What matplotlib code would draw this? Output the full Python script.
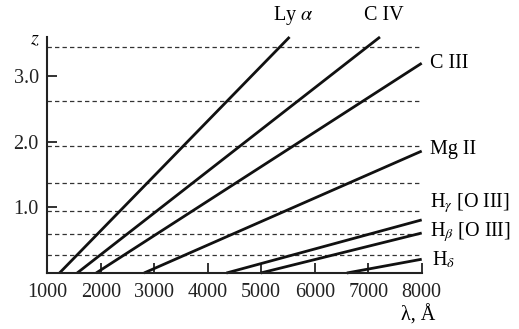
import matplotlib
matplotlib.use("Agg")
import matplotlib.pyplot as plt

plt.rcParams['font.family'] = ['Liberation Serif', 'DejaVu Serif']
plt.rcParams['mathtext.fontset'] = 'stix'

# Line endpoints: (lambda, z) at start and end
line_names = ['Ly_alpha', 'C IV', 'C III', 'Mg II', 'H_gamma', 'H_beta', 'H_delta']
lam_start = [1230, 1560, 1915, 2810, 4350, 4990, 6600]
z_start = [0, 0, 0, 0, 0, 0, 0]
lam_end = [5530, 7220, 8000, 8000, 8000, 8000, 8000]
z_end = [3.6, 3.6, 3.2, 1.86, 0.81, 0.61, 0.21]

# Dashed horizontal guide levels
z_levels = [0.27, 0.59, 0.945, 1.38, 1.94, 2.62, 3.45]

x_ticks = [1000, 2000, 3000, 4000, 5000, 6000, 7000, 8000]
y_ticks = [1.0, 2.0, 3.0]
y_ticklabels = ['1.0', '2.0', '3.0']

fs = 14.5

fig = plt.figure(figsize=(5.19, 3.29), dpi=100)
ax = fig.add_axes([47.2 / 519, 1 - 273 / 329, 374.5 / 519, 236 / 329])

# Guide lines
for zl in z_levels:
    ax.plot([1000, 8000], [zl, zl], color='#333333', lw=0.9,
            dashes=(3.5, 2.5), clip_on=False)

# Spectral lines
for xs, ys, xe, ye in zip(lam_start, z_start, lam_end, z_end):
    ax.plot([xs, xe], [ys, ye], color='#111111', lw=2.0,
            solid_capstyle='butt', clip_on=False)

ax.set_xlim(1000, 8000)
ax.set_ylim(0, 3.6)

for s in ['top', 'right']:
    ax.spines[s].set_visible(False)
for s in ['left', 'bottom']:
    ax.spines[s].set_linewidth(1.5)
    ax.spines[s].set_color('#222222')

ax.set_xticks(x_ticks)
ax.set_xticklabels([str(t) for t in x_ticks])
ax.set_yticks(y_ticks)
ax.set_yticklabels(y_ticklabels)
ax.tick_params(direction='in', length=7, width=1.3, labelsize=fs,
               colors='#222222', pad=7)
ax.tick_params(axis='y', pad=6)

# Axis labels
ax.text(-0.02, 3.55, r'$z$', fontsize=fs, ha='right', va='center',
        transform=ax.get_yaxis_transform())
ax.text(7930, -0.64, 'λ, Å', fontsize=fs, ha='center', va='center')

# Line labels
ax.text(5590, 3.93, r'Ly $\alpha$', fontsize=fs, ha='center', va='center')
ax.text(7300, 3.93, 'C IV', fontsize=fs, ha='center', va='center')
ax.text(8150, 3.2, 'C III', fontsize=fs, ha='left', va='center')
ax.text(8150, 1.88, 'Mg II', fontsize=fs, ha='left', va='center')
ax.text(8150, 1.07, r'H$_\gamma$ [O III]', fontsize=fs, ha='left', va='center')
ax.text(8150, 0.63, r'H$_\beta$ [O III]', fontsize=fs, ha='left', va='center')
ax.text(8190, 0.2, r'H$_\delta$', fontsize=fs, ha='left', va='center')

fig.savefig('out.png', dpi=100)
